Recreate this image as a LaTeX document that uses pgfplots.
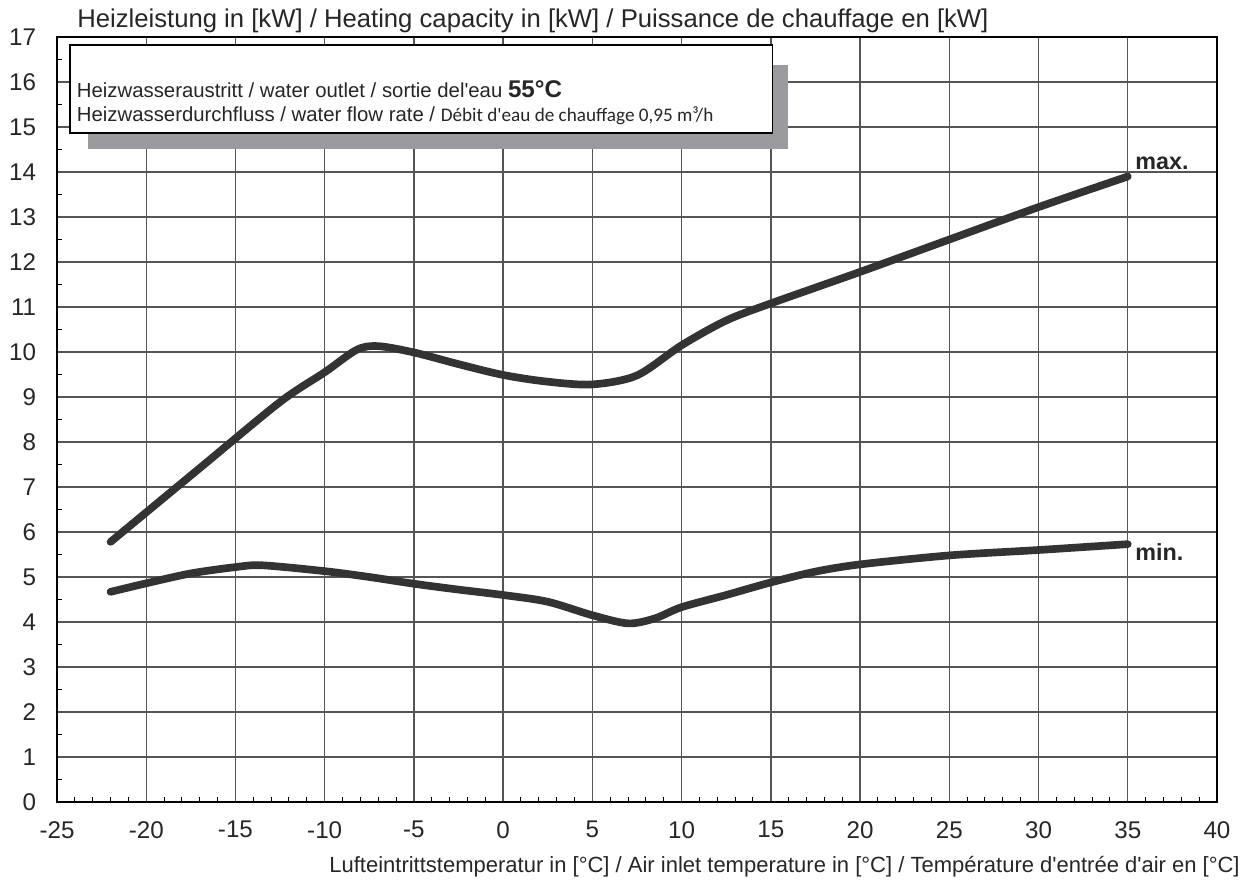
\documentclass[border=0pt]{standalone}
\usepackage{fontspec}
\setmainfont{Liberation Sans}[Ligatures=TeXOff]
\newfontfamily\carlito{Carlito}
\usepackage{pgfplots}
\pgfplotsset{compat=1.18}
\definecolor{curve}{HTML}{333333}
\definecolor{shadow}{HTML}{9B9B9F}
\definecolor{gridc}{HTML}{555555}
\begin{document}
\begin{tikzpicture}
\begin{axis}[
    at={(0,0)}, anchor=south west,
    scale only axis,
    width=696pt, height=459pt,
    xmin=-25, xmax=40,
    ymin=0, ymax=17,
    xtick distance=5, ytick distance=1,
    minor x tick num=4, minor y tick num=1,
    grid=major,
    major grid style={gridc, line width=0.8pt},
    axis line style={black, line width=1.2pt},
    tick pos=left, tick align=inside,
    major tick length=0pt, minor tick length=3pt,
    minor tick style={black, line width=0.6pt},
    /pgf/number format/assume math mode=true,
    ticklabel style={font=\fontsize{14.5}{16}\selectfont, text=black!85},
    xticklabel style={yshift=-8pt},
    yticklabel style={xshift=-9pt},
    clip=false,
]
% box with shadow
\fill[shadow] (axis cs:-23.26,16.38) rectangle (axis cs:15.95,14.51);
\draw[black, line width=1pt, fill=white] (axis cs:-24.27,16.82) rectangle (axis cs:15.1,14.87);
\node[anchor=base west, inner sep=0pt, font=\fontsize{12.2}{14}\selectfont, text=black!85]
  at (axis cs:-23.9,15.65) {Heizwasseraustritt / water outlet / sortie del'eau \textbf{\fontsize{14.5}{16}\selectfont 55°C}};
\node[anchor=base west, inner sep=0pt, font=\fontsize{12.2}{14}\selectfont, text=black!85]
  at (axis cs:-23.9,15.12) {Heizwasserdurchfluss / water flow rate / {\carlito\fontsize{11.5}{14}\selectfont Débit d'eau de chauffage 0,95 m³/h}};

% max
\addplot[curve, line width=4.6pt, line cap=round, smooth, tension=0.5] coordinates {
 (-22,5.78) (-17,7.42) (-12.5,8.89) (-10,9.55) (-8.2,10.05) (-7,10.13) (-5,9.99)
 (-2.5,9.73) (0,9.49) (2.5,9.34) (5,9.28) (7.5,9.48) (10,10.15)
 (12.5,10.7) (15,11.08) (20,11.78) (25,12.5) (30,13.22) (35,13.9)
};
% min
\addplot[curve, line width=4.6pt, line cap=round, smooth, tension=0.5] coordinates {
 (-22,4.67) (-20,4.86) (-17.5,5.08) (-15,5.22) (-13.5,5.26) (-10,5.13) (-7.5,5.0) (-5,4.85)
 (-2.5,4.72) (0,4.6) (2.5,4.45) (5,4.15) (7,3.97) (8.5,4.08) (10,4.33) (12.5,4.6) (15,4.88)
 (17.5,5.12) (20,5.28) (25,5.48) (30,5.6) (35,5.73)
};
\node[anchor=west, font=\bfseries\fontsize{14}{16}\selectfont, text=black!85] at (axis cs:35.1,14.2) {max.};
\node[anchor=west, font=\bfseries\fontsize{14}{16}\selectfont, text=black!85] at (axis cs:35.1,5.56) {min.};

\node[anchor=base west, inner sep=0pt, font=\fontsize{15.4}{18}\selectfont, text=black!85]
  at (rel axis cs:0,1) [xshift=12pt, yshift=6pt] {Heizleistung in [kW] / Heating capacity in [kW] / Puissance de chauffage en [kW]};
\node[anchor=base east, inner sep=0pt, font=\fontsize{13.2}{16}\selectfont, text=black!85]
  at (rel axis cs:1,0) [xshift=13.8pt, yshift=-42pt] {Lufteintrittstemperatur in [°C] / Air inlet temperature in [°C] / Température d'entrée d'air en [°C]};
\end{axis}
\pgfresetboundingbox
\path[use as bounding box] (-34.2pt,-47.4pt) rectangle (715.2pt,481.2pt);
\end{tikzpicture}
\end{document}
